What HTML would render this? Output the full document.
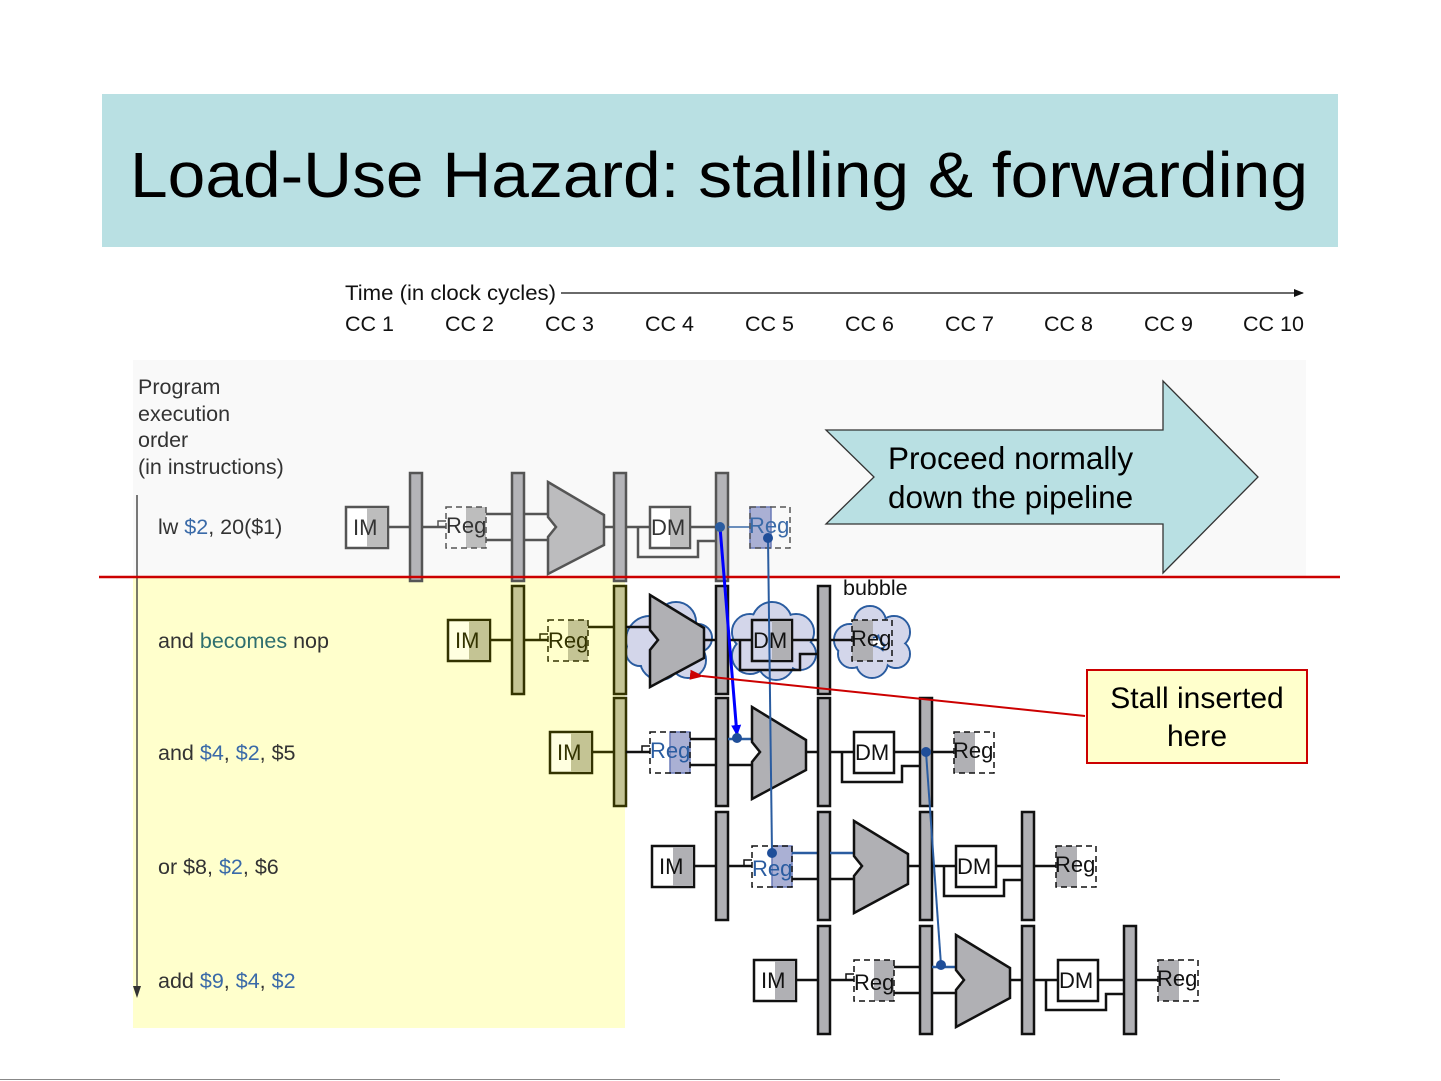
<!DOCTYPE html>
<html><head><meta charset="utf-8"><style>
html,body{margin:0;padding:0;background:#fff}
svg{display:block}
text{font-family:"Liberation Sans",Arial,sans-serif}
</style></head><body>
<svg width="1441" height="1081" viewBox="0 0 1441 1081" xmlns="http://www.w3.org/2000/svg">
<defs>
<marker id="ah" markerWidth="10" markerHeight="10" refX="9" refY="5" orient="auto" markerUnits="userSpaceOnUse"><path d="M0,1 L10,5 L0,9 z" fill="#111"/></marker>
<marker id="ab" markerWidth="12" markerHeight="12" refX="10" refY="6" orient="auto" markerUnits="userSpaceOnUse"><path d="M0,1 L11,6 L0,11 z" fill="#0000ff"/></marker>
<marker id="ar" markerWidth="14" markerHeight="12" refX="2" refY="6" orient="auto" markerUnits="userSpaceOnUse"><path d="M14,1 L0,6 L14,11 z" fill="#cc0000"/></marker>
</defs>
<rect width="1441" height="1081" fill="#fff"/>
<rect x="102" y="94" width="1236" height="153" fill="#b9e0e3"/>
<text x="130" y="197" font-size="64" textLength="1178" lengthAdjust="spacingAndGlyphs" fill="#000">Load-Use Hazard: stalling &amp; forwarding</text>

<rect x="133" y="360" width="1173" height="217" fill="#f9f9f9"/>
<rect x="133" y="578" width="492" height="450" fill="#ffffcc"/>

<text x="345" y="300" font-size="21.5" textLength="211" lengthAdjust="spacingAndGlyphs" fill="#111">Time (in clock cycles)</text>
<line x1="561" y1="293" x2="1303" y2="293" stroke="#111" stroke-width="1.2" marker-end="url(#ah)"/>
<g font-size="21.5" fill="#111">
<text x="345" y="331">CC 1</text><text x="445" y="331">CC 2</text><text x="545" y="331">CC 3</text><text x="645" y="331">CC 4</text><text x="745" y="331">CC 5</text><text x="845" y="331">CC 6</text><text x="945" y="331">CC 7</text><text x="1044" y="331">CC 8</text><text x="1144" y="331">CC 9</text><text x="1243" y="331">CC 10</text>
</g>
<g font-size="21.5" fill="#333">
<text x="138" y="394">Program</text><text x="138" y="421">execution</text><text x="138" y="447">order</text><text x="138" y="474">(in instructions)</text>
</g>
<line x1="137" y1="495" x2="137" y2="990" stroke="#333" stroke-width="1.3"/>
<path d="M133,986 L141,986 L137,998 z" fill="#333"/>

<g font-size="21.5" fill="#333">
<text x="158" y="534">lw <tspan fill="#3a6aa8">$2</tspan>, 20($1)</text>
<text x="158" y="648">and <tspan fill="#2f6f6f">becomes</tspan> nop</text>
<text x="158" y="760">and <tspan fill="#3a6aa8">$4</tspan>, <tspan fill="#3a6aa8">$2</tspan>, $5</text>
<text x="158" y="874">or $8, <tspan fill="#3a6aa8">$2</tspan>, $6</text>
<text x="158" y="988">add <tspan fill="#3a6aa8">$9</tspan>, <tspan fill="#3a6aa8">$4</tspan>, <tspan fill="#3a6aa8">$2</tspan></text>
</g>

<!-- Proceed arrow -->
<polygon points="826,430 1163,430 1163,381 1258,477 1163,573 1163,524 826,524 874,477" fill="#b9e0e3" stroke="#333" stroke-width="1.3"/>
<text x="888" y="469" font-size="31.5" fill="#000">Proceed normally</text>
<text x="888" y="508" font-size="31.5" fill="#000">down the pipeline</text>

<!-- Row 1: lw -->
<g transform="translate(346,527)" stroke="#555" stroke-width="2.5">
<rect x="0" y="-20" width="42" height="41" fill="#fff"/><rect x="21" y="-19" width="20" height="39" fill="#bdbdbd" stroke="none"/>
<text x="7" y="8" font-size="22" fill="#333" stroke="none">IM</text>
<line x1="42" y1="0" x2="64" y2="0"/>
<rect x="64" y="-54" width="12" height="108" fill="#b4b4b8"/>
<line x1="76" y1="0" x2="100" y2="0"/><path d="M92,0 V-6 H100" fill="none" stroke-width="1.5"/>
<rect x="120" y="-20" width="20" height="41" fill="#bdbdbd" stroke="none"/>
<rect x="100" y="-20" width="40" height="41" fill="none" stroke-dasharray="6,4" stroke-width="1.5"/>
<text x="100" y="6" font-size="22" fill="#333" stroke="none">Reg</text>
<line x1="140" y1="-13" x2="166" y2="-13"/><line x1="140" y1="13" x2="166" y2="13"/>
<rect x="166" y="-54" width="12" height="108" fill="#b4b4b8"/>
<line x1="178" y1="-13" x2="202" y2="-13"/><line x1="178" y1="13" x2="202" y2="13"/>
<polygon points="202,-45 258,-12 258,18 202,47 202,10 210,0 202,-10" fill="#bcbcbe"/>
<line x1="258" y1="0" x2="268" y2="0"/>
<rect x="268" y="-54" width="12" height="108" fill="#b4b4b8"/>
<line x1="280" y1="0" x2="304" y2="0"/>
<rect x="304" y="-20" width="40" height="41" fill="#fff"/><rect x="324" y="-19" width="19" height="39" fill="#bdbdbd" stroke="none"/>
<text x="305" y="8" font-size="22" fill="#333" stroke="none">DM</text>
<path d="M292,0 V30 H352 V14 H370" fill="none"/>
<line x1="344" y1="0" x2="370" y2="0"/>
<rect x="370" y="-54" width="12" height="108" fill="#b4b4b8"/>
<line x1="382" y1="0" x2="404" y2="0" stroke="#3a6aa8" stroke-width="1.5"/>
<rect x="404" y="-20" width="21" height="41" fill="#aab0d4" stroke="#6a7ab8" stroke-width="1.5"/>
<rect x="404" y="-20" width="40" height="41" fill="none" stroke-dasharray="6,4" stroke-width="1.5"/>
<text x="403" y="6" font-size="22" fill="#3a6aa8" stroke="none">Reg</text>
</g>

<!-- clouds row 2 -->
<g fill="#d3d6ea" stroke="#2a5ca0" stroke-width="2">
<g><circle cx="650" cy="640" r="24"/><circle cx="676" cy="622" r="20"/><circle cx="698" cy="638" r="14"/><circle cx="688" cy="660" r="18"/><circle cx="660" cy="660" r="20"/><circle cx="640" cy="652" r="14"/></g>
<g><circle cx="750" cy="632" r="18"/><circle cx="772" cy="622" r="20"/><circle cx="796" cy="632" r="18"/><circle cx="800" cy="654" r="16"/><circle cx="776" cy="662" r="18"/><circle cx="750" cy="656" r="18"/></g>
<g><circle cx="850" cy="640" r="16"/><circle cx="870" cy="622" r="16"/><circle cx="894" cy="632" r="16"/><circle cx="896" cy="654" r="14"/><circle cx="872" cy="662" r="16"/><circle cx="852" cy="654" r="14"/></g>
</g>
<g fill="#d3d6ea" stroke="none">
<circle cx="650" cy="640" r="23"/><circle cx="676" cy="622" r="19"/><circle cx="698" cy="638" r="13"/><circle cx="688" cy="660" r="17"/><circle cx="660" cy="660" r="19"/><circle cx="640" cy="652" r="13"/>
<circle cx="750" cy="632" r="17"/><circle cx="772" cy="622" r="19"/><circle cx="796" cy="632" r="17"/><circle cx="800" cy="654" r="15"/><circle cx="776" cy="662" r="17"/><circle cx="750" cy="656" r="17"/>
<circle cx="850" cy="640" r="15"/><circle cx="870" cy="622" r="15"/><circle cx="894" cy="632" r="15"/><circle cx="896" cy="654" r="13"/><circle cx="872" cy="662" r="15"/><circle cx="852" cy="654" r="13"/>
</g>
<text x="843" y="595" font-size="21.5" fill="#111">bubble</text>

<!-- Row 2: and becomes nop -->
<g transform="translate(448,640)" stroke="#333300" stroke-width="2.5">
<rect x="0" y="-20" width="42" height="41" fill="#ffffe0"/><rect x="21" y="-19" width="20" height="39" fill="#c4c494" stroke="none"/>
<text x="7" y="8" font-size="22" fill="#333300" stroke="none">IM</text>
<line x1="42" y1="0" x2="64" y2="0"/>
<rect x="64" y="-54" width="12" height="108" fill="#c4c494"/>
<line x1="76" y1="0" x2="100" y2="0"/><path d="M92,0 V-6 H100" fill="none" stroke-width="1.5"/>
<rect x="120" y="-20" width="20" height="41" fill="#c4c494" stroke="none"/>
<rect x="100" y="-20" width="40" height="41" fill="none" stroke-dasharray="6,4" stroke-width="1.5"/>
<text x="100" y="8" font-size="22" fill="#333300" stroke="none">Reg</text>
<line x1="140" y1="-13" x2="166" y2="-13"/>
<rect x="166" y="-54" width="12" height="108" fill="#c4c494"/>
</g>
<g transform="translate(448,640)" stroke="#111" stroke-width="2.5">
<line x1="178" y1="-13" x2="202" y2="-13"/>
<polygon points="202,-45 256,-12 256,18 202,47 202,10 210,0 202,-10" fill="#b0b0b4"/>
<line x1="256" y1="0" x2="268" y2="0"/>
<rect x="268" y="-54" width="12" height="108" fill="#b0b0b4"/>
<line x1="280" y1="0" x2="304" y2="0"/>
<rect x="304" y="-20" width="40" height="41" fill="#d3d6ea"/><rect x="324" y="-19" width="19" height="39" fill="#b0b0b4" stroke="none"/>
<text x="305" y="8" font-size="22" fill="#111" stroke="none">DM</text>
<path d="M292,0 V30 H352 V14 H370" fill="none"/>
<line x1="344" y1="0" x2="370" y2="0"/>
<rect x="370" y="-54" width="12" height="108" fill="#b0b0b4"/>
<line x1="382" y1="0" x2="404" y2="0"/>
<rect x="404" y="-20" width="21" height="41" fill="#b0b0b4" stroke="none"/>
<rect x="404" y="-20" width="40" height="41" fill="none" stroke-dasharray="6,4" stroke-width="1.5"/>
<text x="403" y="6" font-size="22" fill="#111" stroke="none">Reg</text>
</g>

<!-- Row 3: and -->
<g transform="translate(550,752)" stroke="#111" stroke-width="2.5">
<rect x="0" y="-20" width="42" height="41" fill="#ffffe0" stroke="#333300"/><rect x="21" y="-19" width="20" height="39" fill="#c4c494" stroke="none"/>
<text x="7" y="8" font-size="22" fill="#333300" stroke="none">IM</text>
<line x1="42" y1="0" x2="64" y2="0" stroke="#333300"/>
<rect x="64" y="-54" width="12" height="108" fill="#c4c494" stroke="#333300"/>
<line x1="76" y1="0" x2="100" y2="0"/><path d="M92,0 V-6 H100" fill="none" stroke-width="1.5"/>
<rect x="120" y="-20" width="20" height="41" fill="#aab0d4" stroke="#6a7ab8" stroke-width="1.5"/>
<rect x="100" y="-20" width="40" height="41" fill="none" stroke-dasharray="6,4" stroke-width="1.5"/>
<text x="100" y="6" font-size="22" fill="#2a5ca0" stroke="none">Reg</text>
<line x1="140" y1="-13" x2="166" y2="-13"/><line x1="140" y1="13" x2="166" y2="13"/>
<rect x="166" y="-54" width="12" height="108" fill="#b0b0b4"/>
<line x1="178" y1="-13" x2="202" y2="-13" stroke="#2a5ca0"/><line x1="178" y1="13" x2="202" y2="13"/>
<polygon points="202,-45 256,-12 256,18 202,47 202,10 210,0 202,-10" fill="#b0b0b4"/>
<line x1="256" y1="0" x2="268" y2="0"/>
<rect x="268" y="-54" width="12" height="108" fill="#b0b0b4"/>
<line x1="280" y1="0" x2="304" y2="0"/>
<rect x="304" y="-20" width="40" height="41" fill="#fff"/>
<text x="305" y="8" font-size="22" fill="#111" stroke="none">DM</text>
<path d="M292,0 V30 H352 V14 H370" fill="none"/>
<line x1="344" y1="0" x2="370" y2="0"/>
<rect x="370" y="-54" width="12" height="108" fill="#b0b0b4"/>
<line x1="382" y1="0" x2="404" y2="0"/>
<rect x="404" y="-20" width="21" height="41" fill="#b0b0b4" stroke="none"/>
<rect x="404" y="-20" width="40" height="41" fill="none" stroke-dasharray="6,4" stroke-width="1.5"/>
<text x="403" y="6" font-size="22" fill="#111" stroke="none">Reg</text>
</g>

<!-- Row 4: or -->
<g transform="translate(652,866)" stroke="#111" stroke-width="2.5">
<rect x="0" y="-20" width="42" height="41" fill="#fff"/><rect x="21" y="-19" width="20" height="39" fill="#b0b0b4" stroke="none"/>
<text x="7" y="8" font-size="22" fill="#111" stroke="none">IM</text>
<line x1="42" y1="0" x2="64" y2="0"/>
<rect x="64" y="-54" width="12" height="108" fill="#b0b0b4"/>
<line x1="76" y1="0" x2="100" y2="0"/><path d="M92,0 V-6 H100" fill="none" stroke-width="1.5"/>
<rect x="120" y="-20" width="20" height="41" fill="#aab0d4" stroke="#6a7ab8" stroke-width="1.5"/>
<rect x="100" y="-20" width="40" height="41" fill="none" stroke-dasharray="6,4" stroke-width="1.5"/>
<text x="100" y="10" font-size="22" fill="#2a5ca0" stroke="none">Reg</text>
<line x1="140" y1="-13" x2="166" y2="-13" stroke="#2a5ca0"/><line x1="140" y1="13" x2="166" y2="13"/>
<rect x="166" y="-54" width="12" height="108" fill="#b0b0b4"/>
<line x1="178" y1="-13" x2="202" y2="-13" stroke="#2a5ca0"/><line x1="178" y1="13" x2="202" y2="13"/>
<polygon points="202,-45 256,-12 256,18 202,47 202,10 210,0 202,-10" fill="#b0b0b4"/>
<line x1="256" y1="0" x2="268" y2="0"/>
<rect x="268" y="-54" width="12" height="108" fill="#b0b0b4"/>
<line x1="280" y1="0" x2="304" y2="0"/>
<rect x="304" y="-20" width="40" height="41" fill="#fff"/>
<text x="305" y="8" font-size="22" fill="#111" stroke="none">DM</text>
<path d="M292,0 V30 H352 V14 H370" fill="none"/>
<line x1="344" y1="0" x2="370" y2="0"/>
<rect x="370" y="-54" width="12" height="108" fill="#b0b0b4"/>
<line x1="382" y1="0" x2="404" y2="0"/>
<rect x="404" y="-20" width="21" height="41" fill="#b0b0b4" stroke="none"/>
<rect x="404" y="-20" width="40" height="41" fill="none" stroke-dasharray="6,4" stroke-width="1.5"/>
<text x="403" y="6" font-size="22" fill="#111" stroke="none">Reg</text>
</g>

<!-- Row 5: add -->
<g transform="translate(754,980)" stroke="#111" stroke-width="2.5">
<rect x="0" y="-20" width="42" height="41" fill="#fff"/><rect x="21" y="-19" width="20" height="39" fill="#b0b0b4" stroke="none"/>
<text x="7" y="8" font-size="22" fill="#111" stroke="none">IM</text>
<line x1="42" y1="0" x2="64" y2="0"/>
<rect x="64" y="-54" width="12" height="108" fill="#b0b0b4"/>
<line x1="76" y1="0" x2="100" y2="0"/><path d="M92,0 V-6 H100" fill="none" stroke-width="1.5"/>
<rect x="120" y="-20" width="20" height="41" fill="#b0b0b4" stroke="none"/>
<rect x="100" y="-20" width="40" height="41" fill="none" stroke-dasharray="6,4" stroke-width="1.5"/>
<text x="100" y="10" font-size="22" fill="#111" stroke="none">Reg</text>
<line x1="140" y1="-13" x2="166" y2="-13"/><line x1="140" y1="13" x2="166" y2="13"/>
<rect x="166" y="-54" width="12" height="108" fill="#b0b0b4"/>
<line x1="178" y1="-13" x2="202" y2="-13" stroke="#2a5ca0"/><line x1="178" y1="13" x2="202" y2="13"/>
<polygon points="202,-45 256,-12 256,18 202,47 202,10 210,0 202,-10" fill="#b0b0b4"/>
<line x1="256" y1="0" x2="268" y2="0"/>
<rect x="268" y="-54" width="12" height="108" fill="#b0b0b4"/>
<line x1="280" y1="0" x2="304" y2="0"/>
<rect x="304" y="-20" width="40" height="41" fill="#fff"/>
<text x="305" y="8" font-size="22" fill="#111" stroke="none">DM</text>
<path d="M292,0 V30 H352 V14 H370" fill="none"/>
<line x1="344" y1="0" x2="370" y2="0"/>
<rect x="370" y="-54" width="12" height="108" fill="#b0b0b4"/>
<line x1="382" y1="0" x2="404" y2="0"/>
<rect x="404" y="-20" width="21" height="41" fill="#b0b0b4" stroke="none"/>
<rect x="404" y="-20" width="40" height="41" fill="none" stroke-dasharray="6,4" stroke-width="1.5"/>
<text x="403" y="6" font-size="22" fill="#111" stroke="none">Reg</text>
</g>

<!-- red stall line -->
<line x1="99" y1="577" x2="1340" y2="577" stroke="#cc0000" stroke-width="2.5"/>

<!-- forwarding lines -->
<line x1="768" y1="538" x2="772" y2="853" stroke="#2a5ca0" stroke-width="2"/>
<circle cx="768" cy="538" r="5" fill="#1f4e99"/>
<circle cx="772" cy="853" r="5" fill="#1f4e99"/>
<line x1="926" y1="752" x2="941" y2="965" stroke="#2a5ca0" stroke-width="2"/>
<circle cx="926" cy="752" r="5" fill="#1f4e99"/>
<circle cx="941" cy="965" r="5" fill="#1f4e99"/>
<line x1="720" y1="527" x2="737" y2="735" stroke="#0000ff" stroke-width="3" marker-end="url(#ab)"/>
<circle cx="720" cy="527" r="5" fill="#2a5ca0"/>
<circle cx="737" cy="738" r="5" fill="#1f4e99"/>

<!-- stall box -->
<line x1="1085" y1="716" x2="702" y2="676" stroke="#cc0000" stroke-width="2" marker-end="url(#ar)"/>
<rect x="1087" y="670" width="220" height="93" fill="#ffffcc" stroke="#cc0000" stroke-width="2"/>
<text x="1197" y="708" font-size="30" text-anchor="middle" fill="#000">Stall inserted</text>
<text x="1197" y="746" font-size="30" text-anchor="middle" fill="#000">here</text>

<line x1="0" y1="1079.5" x2="1280" y2="1079.5" stroke="#888" stroke-width="1"/>
</svg>
</body></html>
